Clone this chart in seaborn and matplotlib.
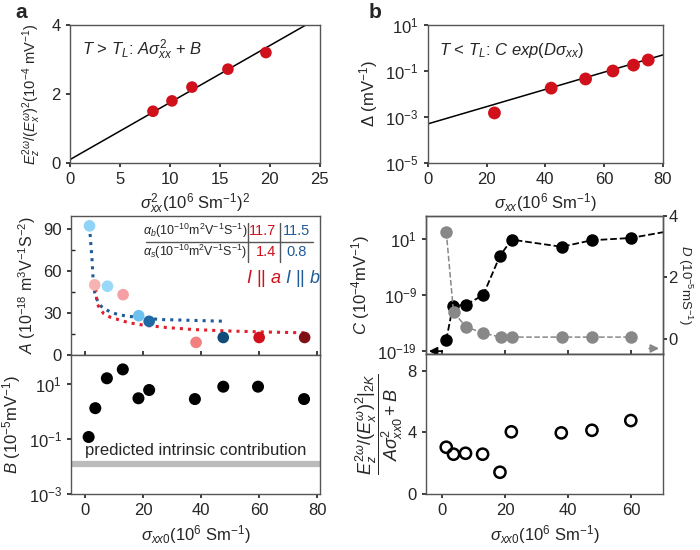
import numpy as np
import pandas as pd
import seaborn as sns
import matplotlib.pyplot as plt
from matplotlib.ticker import MultipleLocator

# ---- data ----
# a, top: E_z/(E_x)^2 vs sigma_xx^2
sig2_a = [8.3, 10.2, 12.2, 15.8, 19.6]
ratio_a = [1.5, 1.8, 2.2, 2.72, 3.2]
fit_a_x = [0, 23.6]
fit_a_y = [0.1, 4.0]

# b, top: Delta vs sigma_xx
sig_b = [22.7, 42, 53.7, 63, 70, 75]
delta_b = [1.5e-3, 0.018, 0.045, 0.1, 0.18, 0.3]
fit_b_x = [0, 80]
fit_b_y = [5e-4, 0.5]

# a, middle: A vs sigma_xx0
sig_A = [1.4, 3.2, 7.6, 13, 18.4, 22, 38.2, 47.6, 60, 75.7]
A_vals = [92, 50, 49, 43, 28, 24, 9, 12.5, 12.5, 12.5]
A_colors = ['#8fd3f7', '#f7b3b3', '#9ad8f8', '#f4a0a5', '#6ec1ee',
            '#1f6aa5', '#f28080', '#0f4c7a', '#d0101a', '#7f1015']
blue_fit_x = [1.4, 2.0, 2.3, 2.8, 3.5, 4.6, 6, 8.6, 11, 14.3, 25.7, 47.4]
blue_fit_y = [92, 75, 67, 48, 42, 36.6, 33.5, 30.7, 29, 27.7, 25.3, 24.1]
red_fit_x = [3.4, 3.7, 4.0, 5, 6.3, 8.5, 12, 15, 20, 28, 37, 47, 60, 76]
red_fit_y = [53, 44, 36.6, 33, 29.5, 27, 24.8, 23, 21.3, 19.6, 18.2, 17.3, 16.5, 15.8]

# a, bottom: B vs sigma_xx0
sig_B = [1.1, 3.4, 7.4, 12.9, 18.3, 22, 37.8, 47.6, 59.6, 75.5]
B_vals = [0.12, 1.35, 16.6, 35, 3.1, 6.2, 2.9, 8.2, 8.2, 2.9]
B_intrinsic = 0.0123

# b, middle: C (left, log) and D (right) vs sigma_xx0
sig_C = [1.4, 3.5, 7.7, 13.1, 18.4, 22.1, 37.9, 47.4, 59.8, 75]
C_vals = [1e-17, 1e-11, 2e-11, 1e-9, 1e-2, 7.6, 0.4, 5.8, 14.8, 500]
sig_D = [1.4, 3.7, 7.7, 13.1, 18.6, 22.1, 37.9, 47.4, 59.8]
D_vals = [3.49, 0.86, 0.38, 0.18, 0.05, 0.05, 0.05, 0.05, 0.05]

# b, bottom: normalised ratio at 2 K
sig_R = [1.4, 3.7, 7.5, 12.9, 18.4, 22, 37.8, 47.5, 59.8]
R_vals = [3.03, 2.58, 2.64, 2.58, 1.41, 4.03, 3.96, 4.13, 4.76]

# ---- style ----
sns.set_theme(style='ticks')
plt.rcParams['font.family'] = ['Liberation Sans', 'DejaVu Sans']
plt.rcParams['mathtext.fontset'] = 'custom'
plt.rcParams['mathtext.rm'] = 'Liberation Sans'
plt.rcParams['mathtext.it'] = 'Liberation Sans:italic'
plt.rcParams['font.size'] = 12
plt.rcParams['axes.edgecolor'] = '#555555'
plt.rcParams['axes.linewidth'] = 1.0
plt.rcParams['axes.labelsize'] = 12
plt.rcParams['xtick.labelsize'] = 12
plt.rcParams['ytick.labelsize'] = 12
plt.rcParams['xtick.major.size'] = 3
plt.rcParams['ytick.major.size'] = 3

fig = plt.figure(figsize=(7, 5.5), dpi=100)
ax_a1 = fig.add_axes([0.100, 0.7036, 0.357, 0.251])
ax_a2 = fig.add_axes([0.1014, 0.3545, 0.3557, 0.2527])
ax_a3 = fig.add_axes([0.1014, 0.1018, 0.3557, 0.2527])
ax_b1 = fig.add_axes([0.611, 0.7036, 0.336, 0.251])
ax_b2 = fig.add_axes([0.6086, 0.3564, 0.3386, 0.251])
ax_b3 = fig.add_axes([0.6086, 0.1018, 0.3386, 0.2545])

red = '#d0101a'
blue = '#1f5c99'

# a, top
sns.lineplot(x=fit_a_x, y=fit_a_y, ax=ax_a1, color='black', lw=1.1)
sns.scatterplot(x=sig2_a, y=ratio_a, ax=ax_a1, color=red, s=70, edgecolor='none', zorder=3)
ax_a1.set_xlim(0, 25)
ax_a1.set_ylim(0, 4)
ax_a1.set_xticks([0, 5, 10, 15, 20, 25])
ax_a1.set_yticks([0, 2, 4])
ax_a1.set_xlabel(r'$\sigma^2_{xx}$(10$^6$ Sm$^{-1}$)$^2$', labelpad=3)
ax_a1.set_ylabel(r'$E_z^{2\omega}/(E_x^{\omega})^2$(10$^{-4}$ mV$^{-1}$)', fontsize=10.5, labelpad=6)
ax_a1.text(0.05, 0.78, r'$T$ > $T_L$: $A\sigma_{xx}^2$ + $B$', transform=ax_a1.transAxes, fontsize=12)

# b, top
sns.lineplot(x=fit_b_x, y=fit_b_y, ax=ax_b1, color='black', lw=1.1)
sns.scatterplot(x=sig_b, y=delta_b, ax=ax_b1, color=red, s=85, edgecolor='none', zorder=3)
ax_b1.set_yscale('log')
ax_b1.set_xlim(0, 80)
ax_b1.set_ylim(1e-5, 10)
ax_b1.set_xticks([0, 20, 40, 60, 80])
ax_b1.set_yticks([1e-5, 1e-3, 1e-1, 1e1])
ax_b1.minorticks_off()
ax_b1.set_xlabel(r'$\sigma_{xx}$(10$^6$ Sm$^{-1}$)', labelpad=3)
ax_b1.set_ylabel(r'$\Delta$ (mV$^{-1}$)')
ax_b1.text(0.05, 0.78, r'$T$ < $T_L$: $C$ $exp$($D\sigma_{xx}$)', transform=ax_b1.transAxes, fontsize=12)

# a, middle
sns.lineplot(x=blue_fit_x, y=blue_fit_y, ax=ax_a2, color=blue, lw=2.2, linestyle=':')
sns.lineplot(x=red_fit_x, y=red_fit_y, ax=ax_a2, color='#e0202a', lw=2.2, linestyle=':')
dfA = pd.DataFrame({'sig': sig_A, 'A': A_vals, 'k': [str(i) for i in range(len(sig_A))]})
sns.scatterplot(data=dfA, x='sig', y='A', hue='k', palette=dict(zip(dfA['k'], A_colors)),
                ax=ax_a2, s=70, edgecolor='none', legend=False, zorder=3)
ax_a2.set_xlim(-5, 81)
ax_a2.set_ylim(0, 99)
ax_a2.set_yticks([0, 30, 60, 90])
ax_a2.yaxis.set_minor_locator(MultipleLocator(15))
ax_a2.tick_params(axis='y', which='minor', direction='in', length=3)
ax_a2.set_xticks([0, 20, 40, 60, 80])
ax_a2.tick_params(axis='x', direction='in', labelbottom=False)
ax_a2.set_xlabel('')
ax_a2.set_ylabel(r'$A$ (10$^{-18}$ m$^3$V$^{-1}$S$^{-2}$)', fontsize=11.5)
tr = ax_a2.transAxes
ax_a2.plot([0.30, 0.97], [0.81, 0.81], color='#555555', lw=1, transform=tr)
ax_a2.plot([0.71, 0.71], [0.67, 0.95], color='#555555', lw=1, transform=tr)
ax_a2.plot([0.84, 0.84], [0.67, 0.95], color='#555555', lw=1, transform=tr)
ax_a2.text(0.50, 0.89, r'$\alpha_b$(10$^{-10}$m$^2$V$^{-1}$S$^{-1}$)', transform=tr, ha='center', va='center', fontsize=9)
ax_a2.text(0.50, 0.74, r'$\alpha_s$(10$^{-10}$m$^2$V$^{-1}$S$^{-1}$)', transform=tr, ha='center', va='center', fontsize=9)
ax_a2.text(0.77, 0.89, '11.7', transform=tr, ha='center', va='center', color=red, fontsize=10.5)
ax_a2.text(0.905, 0.89, '11.5', transform=tr, ha='center', va='center', color=blue, fontsize=10.5)
ax_a2.text(0.785, 0.74, '1.4', transform=tr, ha='center', va='center', color=red, fontsize=10.5)
ax_a2.text(0.905, 0.74, '0.8', transform=tr, ha='center', va='center', color=blue, fontsize=10.5)
ax_a2.text(0.845, 0.55, r'$I$ || $a$', transform=tr, ha='right', va='center', color=red, fontsize=13)
ax_a2.text(0.86, 0.55, r'$I$ || $b$', transform=tr, ha='left', va='center', color=blue, fontsize=13)

# a, bottom
ax_a3.axhline(B_intrinsic, color='#bbbbbb', lw=4.5)
sns.scatterplot(x=sig_B, y=B_vals, ax=ax_a3, color='black', s=75, edgecolor='none', zorder=3)
ax_a3.set_yscale('log')
ax_a3.set_xlim(-5, 81)
ax_a3.set_ylim(1e-3, 117)
ax_a3.set_yticks([1e-3, 1e-1, 1e1])
ax_a3.minorticks_off()
ax_a3.set_xticks([0, 20, 40, 60, 80])
ax_a3.set_ylabel(r'$B$ (10$^{-5}$mV$^{-1}$)')
ax_a3.set_xlabel(r'$\sigma_{xx0}$(10$^6$ Sm$^{-1}$)', labelpad=4)
ax_a3.text(0.5, 0.31, 'predicted intrinsic contribution', transform=ax_a3.transAxes,
           ha='center', va='center', fontsize=12)

# b, middle: C (log, left) and D (right)
sns.lineplot(x=sig_C, y=C_vals, ax=ax_b2, color='black', lw=1.3, linestyle='--',
             marker='o', markersize=9, markeredgecolor='none')
ax_b2.set_yscale('log')
ax_b2.set_xlim(-5, 70)
ax_b2.set_ylim(10**-19.5, 10**5.1)
ax_b2.set_yticks([1e-19, 1e-9, 1e1])
ax_b2.minorticks_off()
ax_b2.set_xticks([0, 20, 40, 60])
ax_b2.tick_params(axis='x', direction='in', labelbottom=False)
ax_b2.set_xlabel('')
ax_b2.set_ylabel(r'$C$ (10$^{-4}$mV$^{-1}$)')
ax_b2.annotate('', xy=(-5, 10**-19), xytext=(1.0, 10**-19),
               arrowprops=dict(arrowstyle='-|>', color='black', lw=1.3), annotation_clip=False)

ax_d = ax_b2.twinx()
sns.lineplot(x=sig_D, y=D_vals, ax=ax_d, color='#888888', lw=1.1, linestyle='--',
             marker='o', markersize=9, markeredgecolor='none')
ax_d.set_ylim(-0.5, 4.0)
ax_d.set_yticks([0, 2, 4])
ax_d.tick_params(axis='y', pad=1)
ax_d.set_ylabel(r'$D$ (10$^{-5}$mS$^{-1}$)', rotation=-90, fontsize=9.5, va='center', ha='center')
ax_d.yaxis.set_label_coords(1.095, 0.5)
for sp in ax_d.spines.values():
    sp.set_color('#555555')
ax_d.annotate('', xy=(0.995, 0.04), xytext=(0.93, 0.04), xycoords='axes fraction',
              arrowprops=dict(arrowstyle='-|>', color='#888888', lw=1.3))

# b, bottom
sns.scatterplot(x=sig_R, y=R_vals, ax=ax_b3, facecolor='none', edgecolor='black',
                linewidth=1.8, s=65, zorder=3)
ax_b3.set_xlim(-5, 70)
ax_b3.set_ylim(0, 9.07)
ax_b3.set_xticks([0, 20, 40, 60])
ax_b3.set_yticks([0, 4, 8])
ax_b3.set_xlabel(r'$\sigma_{xx0}$(10$^6$ Sm$^{-1}$)', labelpad=4)
ax_b3.set_ylabel(r'$\dfrac{E_z^{2\omega}/(E_x^{\omega})^2|_{2K}}{A\sigma_{xx0}^2+B}$', fontsize=13, labelpad=2)

fig.text(0.022, 0.978, 'a', fontsize=15, fontweight='bold', va='center')
fig.text(0.527, 0.978, 'b', fontsize=15, fontweight='bold', va='center')

fig.savefig('out.png', dpi=100)
